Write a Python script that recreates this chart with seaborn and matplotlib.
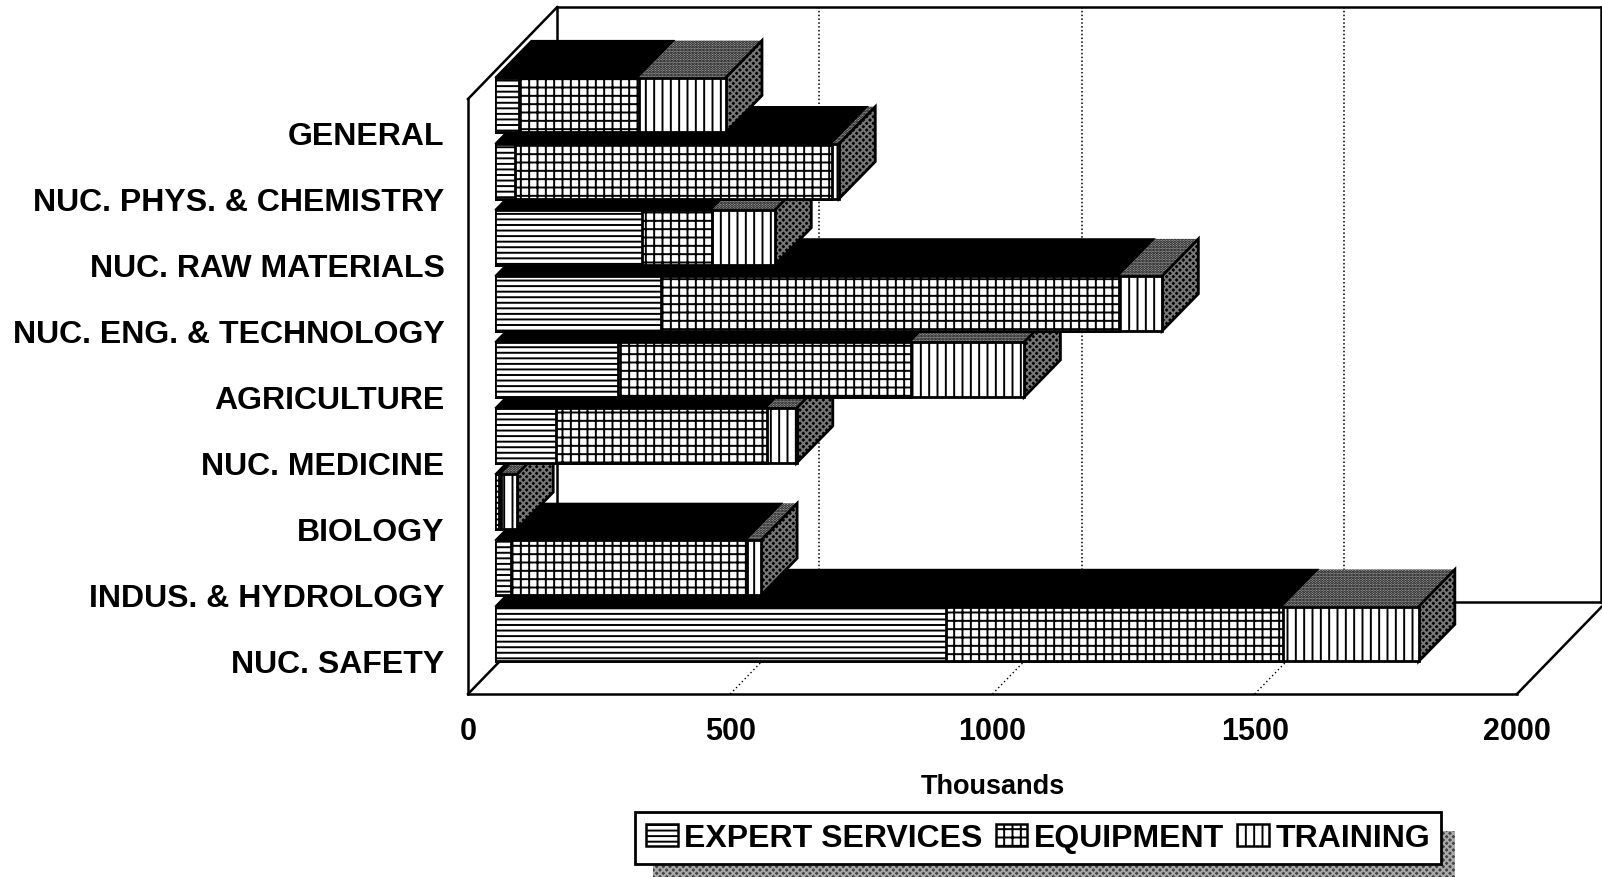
import numpy as np
import pandas as pd
import matplotlib
matplotlib.use('Agg')
import matplotlib.pyplot as plt
from matplotlib.patches import Patch, Polygon, Rectangle
import seaborn as sns

categories = ['GENERAL', 'NUC. PHYS. & CHEMISTRY', 'NUC. RAW MATERIALS',
              'NUC. ENG. & TECHNOLOGY', 'AGRICULTURE', 'NUC. MEDICINE',
              'BIOLOGY', 'INDUS. & HYDROLOGY', 'NUC. SAFETY']
expert = [46, 38, 280, 317, 235, 116, 8, 30, 860]
equipment = [228, 605, 134, 873, 558, 402, 4, 450, 642]
training = [166, 13, 120, 82, 216, 57, 30, 27, 259]
x_ticks = [0, 500, 1000, 1500, 2000]

W, H = 1602, 878
BAR_DX, BAR_DY = 69, -0.56    # bar depth in data units
WALL_DX, WALL_DY = 170, -1.39  # chart box depth in data units
WALL_RIGHT = 2160  # the scan is cropped here

sns.set_style('white')
plt.rcParams['font.family'] = ['Liberation Sans', 'DejaVu Sans']
plt.rcParams['font.weight'] = 'bold'
plt.rcParams['hatch.linewidth'] = 1.4
plt.rcParams['text.color'] = 'black'
plt.rcParams['axes.labelcolor'] = 'black'
plt.rcParams['xtick.labelcolor'] = 'black'
plt.rcParams['ytick.labelcolor'] = 'black'

df = pd.DataFrame({'category': categories, 'expert': expert, 'equipment': equipment, 'training': training})
df['end_expert'] = df['expert']
df['end_equipment'] = df['end_expert'] + df['equipment']
df['end_training'] = df['end_equipment'] + df['training']


def rect_px(left, top, right, bottom):
    return [left / W, 1 - bottom / H, (right - left) / W, (bottom - top) / H]


fig = plt.figure(figsize=(W / 100, H / 100), dpi=100)

# frame axes: the front plane of the 3D box, carries ticks and labels
ax = fig.add_axes(rect_px(468, 100, 1517, 695))
ax.set_xlim(0, 2000)
ax.set_ylim(8.5, -0.5)
ax.set_xticks(x_ticks)
ax.set_yticks(range(len(categories)))
ax.set_yticklabels(categories)
ax.tick_params(axis='x', length=0, pad=16, labelsize=22, labelcolor='black')
ax.tick_params(axis='y', length=0, pad=17, labelsize=23, labelcolor='black')
ax.set_xlabel('Thousands', fontsize=19.5, fontweight='bold', labelpad=19, color='black')
sns.despine(ax=ax, left=True, bottom=True)
ax.patch.set_visible(False)

y0, y1 = 8.5, -0.5
frame = [
    ([0, 0], [y0, y1]),
    ([0, 2000], [y0, y0]),
    ([0, WALL_DX], [y1, y1 + WALL_DY]),
    ([0, WALL_DX], [y0, y0 + WALL_DY]),
    ([2000, 2000 + WALL_DX], [y0, y0 + WALL_DY]),
    ([WALL_DX, WALL_RIGHT], [y1 + WALL_DY, y1 + WALL_DY]),
    ([WALL_DX, WALL_RIGHT], [y0 + WALL_DY, y0 + WALL_DY]),
    ([WALL_DX, WALL_DX], [y1 + WALL_DY, y0 + WALL_DY]),
    ([WALL_RIGHT, WALL_RIGHT], [y1 + WALL_DY, y0 + WALL_DY]),
]
for xs, ys in frame:
    ax.plot(xs, ys, color='black', lw=1.8, clip_on=False, solid_capstyle='projecting')
for t in x_ticks[1:-1]:
    ax.plot([t + WALL_DX, t + WALL_DX], [y1 + WALL_DY, y0 + WALL_DY], color='black', lw=1.1, ls=(0, (1, 1.5)), clip_on=False)
    ax.plot([t, t + WALL_DX], [y0, y0 + WALL_DY], color='black', lw=1, ls=(0, (1, 2)), clip_on=False)

# bars axes: same scales, shifted back into the box
ax_bars = fig.add_axes(rect_px(495, 73, 1544, 668))
ax_bars.patch.set_visible(False)
layers = [('end_training', '||'), ('end_equipment', '++'), ('end_expert', '---')]
for col, hatch in layers:
    sns.barplot(data=df, x=col, y='category', orient='h', ax=ax_bars, width=0.83, color='white',
                saturation=1, edgecolor='black', linewidth=2, hatch=hatch, errorbar=None)
ax_bars.set_xlim(0, 2000)
ax_bars.set_ylim(8.5, -0.5)
ax_bars.set_xticks([])
ax_bars.set_yticks([])
ax_bars.set_xlabel('')
ax_bars.set_ylabel('')
sns.despine(ax=ax_bars, left=True, bottom=True)

# reference draws the front bar first, so the top category ends up on top
half = 0.83 / 2
for cont, _ in zip(ax_bars.containers, layers):
    for i, bar in enumerate(cont):
        bar.set_zorder(100 - 4 * i + 3)

for i, row in df.iterrows():
    z = 100 - 4 * i
    top, bottom = i - half, i + half
    a, b, c = row['end_expert'], row['end_equipment'], row['end_training']
    # black top over expert and equipment
    ax_bars.add_patch(Polygon([(0, top), (b, top), (b + BAR_DX, top + BAR_DY), (BAR_DX, top + BAR_DY)],
                              closed=True, facecolor='black', edgecolor='black', lw=1, zorder=z, clip_on=False))
    # speckled top over training
    ax_bars.add_patch(Polygon([(b, top), (c, top), (c + BAR_DX, top + BAR_DY), (b + BAR_DX, top + BAR_DY)],
                              closed=True, facecolor='#a8a8a8', edgecolor='black', lw=0, hatch='......', zorder=z, clip_on=False))
    # dark side
    ax_bars.add_patch(Polygon([(c, top), (c + BAR_DX, top + BAR_DY), (c + BAR_DX, bottom + BAR_DY), (c, bottom)],
                              closed=True, facecolor='black', edgecolor='#777777', lw=0, hatch='xxxxx', zorder=z + 1, clip_on=False))
    ax_bars.add_patch(Polygon([(c, top), (c + BAR_DX, top + BAR_DY), (c + BAR_DX, bottom + BAR_DY), (c, bottom)],
                              closed=True, fill=False, edgecolor='black', lw=2, zorder=z + 2, clip_on=False))

# legend with its hatched shadow
fig.add_artist(Rectangle((653 / W, 0), (1455 - 653) / W, (H - 832) / H, transform=fig.transFigure,
                         facecolor='#444444', edgecolor='#aaaaaa', lw=0, hatch='xxxxx', zorder=5))
handles = [Patch(facecolor='white', edgecolor='black', hatch='---', lw=1.8),
           Patch(facecolor='white', edgecolor='black', hatch='++', lw=1.8),
           Patch(facecolor='white', edgecolor='black', hatch='||', lw=1.8)]
leg = fig.legend(handles, ['EXPERT SERVICES', 'EQUIPMENT', 'TRAINING'], ncol=3, loc='center',
                 bbox_to_anchor=(1038 / W, 1 - 839 / H), fontsize=23, frameon=True, fancybox=False,
                 framealpha=1, edgecolor='black', facecolor='white',
                 handlelength=1.0, handleheight=0.7, handletextpad=0.2, columnspacing=0.4,
                 borderpad=0.33, borderaxespad=0)
leg.get_frame().set_linewidth(2)
leg.set_zorder(6)

plt.savefig('out.png', dpi=100)
